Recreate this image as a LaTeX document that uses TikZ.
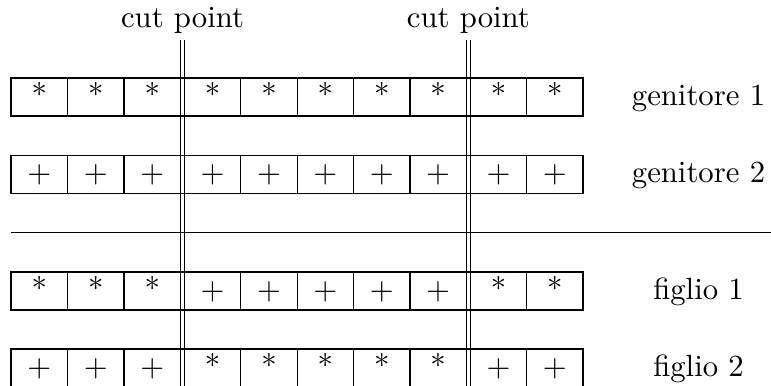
\documentclass[tikz,border=0pt]{standalone}
\begin{document}
\begin{tikzpicture}[x=0.3254pt,y=-0.3254pt,line width=0.4pt,
  sym/.style={anchor=base,inner sep=0pt},
  lab/.style={anchor=base,inner sep=0pt},
  cutline/.style={line width=0.4pt}]
\clip (0,0) rectangle (771,385);
% rows: top y values
\foreach \r/\t in {1/78,2/155.3,3/272,4/349}{
  \draw (11,\t) rectangle (583,\t+38);
  % dividers in left block
  \foreach \x in {67.5,124} \draw (\x,\t) -- (\x,\t+38);
  % dividers in middle block
  \foreach \x in {240.86,297.22,353.58,409.94} \draw (\x,\t) -- (\x,\t+38);
  % divider in right block
  \draw (526.75,\t) -- (526.75,\t+38);
}
% separator rule
\coordinate (sepL) at (11,232.7);
\coordinate (sepR) at (771,232.7);
\draw (sepL) -- (sepR);
% cut point lines
\coordinate (c1at) at (180.5,40);  \coordinate (c1ab) at (180.5,400);
\coordinate (c1bt) at (184.7,40);  \coordinate (c1bb) at (184.7,400);
\coordinate (c2at) at (466.3,40);  \coordinate (c2ab) at (466.3,400);
\coordinate (c2bt) at (470.5,40);  \coordinate (c2bb) at (470.5,400);
\draw[cutline] (c1at) -- (c1ab);
\draw[cutline] (c1bt) -- (c1bb);
\draw[cutline] (c2at) -- (c2ab);
\draw[cutline] (c2bt) -- (c2bb);
\node[lab] (cut1) at (182.5,27) {cut point};
\node[lab] (cut2) at (468.4,27) {cut point};
% symbols
\def\cx{{39.25,95.75,152.25,212.68,269.04,325.40,381.76,438.12,498.63,554.88}}
\foreach \i/\s in {0/*,1/*,2/*,3/*,4/*,5/*,6/*,7/*,8/*,9/*}
  \node[sym] (a\i) at ({\cx[\i]},105) {\s};
\foreach \i/\s in {0/+,1/+,2/+,3/+,4/+,5/+,6/+,7/+,8/+,9/+}
  \node[sym] (b\i) at ({\cx[\i]},182.3) {\s};
\foreach \i/\s in {0/*,1/*,2/*,3/+,4/+,5/+,6/+,7/+,8/*,9/*}
  \node[sym] (c\i) at ({\cx[\i]},299) {\s};
\foreach \i/\s in {0/+,1/+,2/+,3/*,4/*,5/*,6/*,7/*,8/+,9/+}
  \node[sym] (d\i) at ({\cx[\i]},376) {\s};
% labels
\node[lab] (g1) at (698.5,105) {genitore 1};
\node[lab] (g2) at (698.5,182.3) {genitore 2};
\node[lab] (f1) at (698.5,299) {figlio 1};
\node[lab] (f2) at (698.5,376) {figlio 2};
\end{tikzpicture}
\end{document}
